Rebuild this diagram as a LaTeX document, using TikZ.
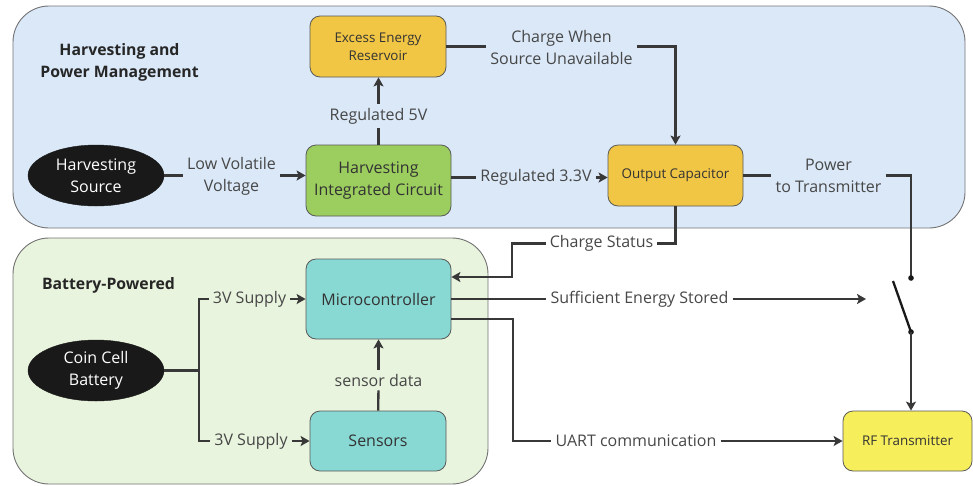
\documentclass[tikz,border=0pt]{standalone}
\usepackage{fontspec}
\setmainfont{Open Sans}
\usepackage{tikz}
\usetikzlibrary{shapes.geometric, arrows.meta, positioning}
\definecolor{regblue}{HTML}{DAE8F8}
\definecolor{reggreen}{HTML}{E8F4DD}
\definecolor{amber}{HTML}{F1C644}
\definecolor{leaf}{HTML}{9CCD5F}
\definecolor{teal}{HTML}{88D8D3}
\definecolor{lemon}{HTML}{F7EE5C}
\tikzstyle{region} = [
    rectangle, rounded corners=36pt, draw=black!55, line width=0.9pt
]
\tikzstyle{block} = [
    rectangle, rounded corners=10pt, draw=black!65, line width=0.8pt,
    text=black!80, align=center, inner sep=2pt,
    font=\fontsize{16}{22}\selectfont
]
\tikzstyle{blob} = [
    ellipse, fill=black!90, draw=black!90, text=white, align=center,
    minimum width=136pt, minimum height=61pt, inner sep=0pt,
    font=\fontsize{16}{22}\selectfont
]
\tikzstyle{lbl} = [align=center, text=black!72, inner sep=4pt,
    font=\fontsize{16}{22}\selectfont]
\tikzstyle{line} = [line width=2.3pt, draw=black!78]
\tikzstyle{arrow} = [line, -{Stealth[length=9pt,width=10pt,inset=2pt]}]

\begin{document}
\begin{tikzpicture}[x=1pt, y=-1pt]
        \useasboundingbox (0,0) rectangle (973,485);

        % Regions
        \draw[region, fill=regblue] (13,6) rectangle (965,228);
        \draw[region, fill=reggreen] (13,238) rectangle (488,484);
        \node[align=center, font=\fontsize{15.8}{22}\selectfont\bfseries,
              text=black!85] (ttl1) at (119.5,62) {Harvesting and\\Power Management};
        \node[font=\fontsize{15.8}{22}\selectfont\bfseries, text=black!85]
              (ttl2) at (108.5,285) {Battery-Powered};

        % Blocks
        \node[blob] (hs) at (96,175.5) {Harvesting\\Source};
        \node[block, fill=leaf, minimum width=145pt, minimum height=71pt]
              (hic) at (378.5,180.5) {Harvesting\\Integrated Circuit};
        \node[block, fill=amber, minimum width=136pt, minimum height=61pt,
              font=\fontsize{13.4}{18}\selectfont]
              (res) at (378,46.5) {Excess Energy\\Reservoir};
        \node[block, fill=amber, minimum width=135pt, minimum height=61pt,
              font=\fontsize{13.4}{18}\selectfont]
              (oc) at (675.5,175.5) {Output Capacitor};
        \node[blob] (cc) at (96,370.5) {Coin Cell\\Battery};
        \node[block, fill=teal, minimum width=145pt, minimum height=80pt]
              (mc) at (378.5,299) {Microcontroller};
        \node[block, fill=teal, minimum width=136pt, minimum height=60pt]
              (sen) at (378,441) {Sensors};
        \node[block, fill=lemon, minimum width=129pt, minimum height=60pt,
              font=\fontsize{13.4}{18}\selectfont]
              (rf) at (907.5,441) {RF Transmitter};

        % Connector labels
        \node[lbl] (lv) at (231.5,176) {Low Volatile\\Voltage};
        \node[lbl] (r5) at (378.5,116) {Regulated 5V};
        \node[lbl] (cw) at (561.5,47) {Charge When\\Source Unavailable};
        \node[lbl] (r33) at (536,177.5) {Regulated 3.3V};
        \node[lbl] (pt) at (828.5,176) {Power\\to Transmitter};
        \node[lbl] (cs) at (601.5,243.5) {Charge Status};
        \node[lbl] (suf) at (639.5,299) {Sufficient Energy Stored};
        \node[lbl] (uart) at (636,441) {UART communication};
        \node[lbl] (sd) at (378.5,380) {sensor data};
        \node[lbl] (s1) at (249.5,299) {3V Supply};
        \node[lbl] (s2) at (251,441) {3V Supply};

        % Bends and switch
        \coordinate (csb) at (512,243.5);
        \coordinate (ub) at (513,441);
        \coordinate (swin) at (866,299);
        \coordinate (swtop) at (911,278);
        \coordinate (swbot) at (911,332);
        \coordinate (split) at (199,370.5);

        % Harvesting side
        \draw[line] (hs) -- (hs -| lv.west);
        \draw[arrow] (hs -| lv.east) -- (hs -| hic.west);
        \draw[line] (hic) -- (r5);
        \draw[arrow] (r5) -- (r5 |- res.south);
        \draw[line] (res) -- (res -| cw.west);
        \draw[arrow] (res -| cw.east) -| (oc);
        \draw[line] (r33 -| hic.east) -- (r33);
        \draw[arrow] (r33) -- (r33 -| oc.west);
        \draw[line] (oc) -- (oc -| pt.west);
        \draw[line] (oc -| pt.east) -| (swtop);

        % Switch
        \fill[black!90] (swtop) circle (2.8pt);
        \fill[black!90] (swbot) circle (2.8pt);
        \draw[line, draw=black!90] (893,281) -- (swbot);
        \draw[arrow] (swbot) -- (swbot |- rf.north);

        % Battery side
        \draw[line] (oc) |- (cs);
        \draw[arrow] (cs) -- (csb) |- ([yshift=22pt]mc.east);
        \draw[line] (mc) -- (suf);
        \draw[arrow] (suf) -- (swin);
        \draw[line] ([yshift=-20pt]mc.east) -| (ub) -- (uart);
        \draw[arrow] (uart) -- (rf);
        \draw[line] (cc) -- (split);
        \draw[line] (s1) -| (split) |- (s2);
        \draw[arrow] (s1) -- (s1 -| mc.west);
        \draw[arrow] (s2) -- (s2 -| sen.west);
        \draw[line] (sen) -- (sd);
        \draw[arrow] (sd) -- (sd |- mc.south);
    \end{tikzpicture}
\end{document}
